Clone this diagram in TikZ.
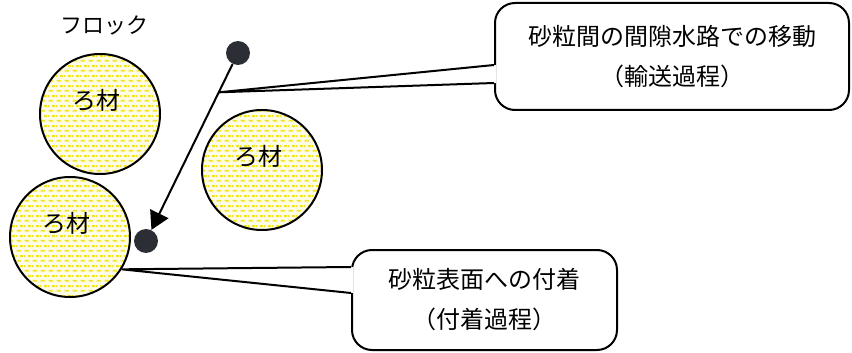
\documentclass[tikz,border=0pt]{standalone}
\usepackage{fontspec}
\newfontfamily\cjk{Noto Sans CJK JP}
\usepackage{tikz}
\usetikzlibrary{arrows.meta,patterns}
\definecolor{graindash}{RGB}{244,228,40}
\definecolor{grainbg}{RGB}{253,252,232}
\definecolor{floccolor}{RGB}{43,46,52}
\pgfdeclarepatternformonly{grainfill}{\pgfpointorigin}{\pgfpoint{4pt}{5pt}}{\pgfpoint{4pt}{5pt}}{%
	\pgfsetlinewidth{1pt}%
	\pgfpathmoveto{\pgfpoint{0.3pt}{1.25pt}}\pgfpathlineto{\pgfpoint{2.7pt}{1.25pt}}%
	\pgfpathmoveto{\pgfpoint{2.3pt}{3.75pt}}\pgfpathlineto{\pgfpoint{4pt}{3.75pt}}%
	\pgfpathmoveto{\pgfpoint{0pt}{3.75pt}}\pgfpathlineto{\pgfpoint{0.7pt}{3.75pt}}%
	\pgfusepath{stroke}}

\begin{document}
\begin{tikzpicture}[x=0.5pt,y=-0.5pt,
		grain/.style={circle,draw,line width=1pt,minimum size=60pt,inner sep=0pt,preaction={fill=grainbg},pattern=grainfill,pattern color=graindash},
		grainlabel/.style={font=\cjk\fontsize{12}{14}\selectfont,xshift=-2pt,yshift=7pt},
		floc/.style={circle,fill=floccolor,minimum size=12pt,inner sep=0pt},
		bubble/.style={draw,line width=1pt,rounded corners=10pt,fill=white,align=center,font=\cjk\fontsize{12}{20}\selectfont}]
		\useasboundingbox (0,0) rectangle (852,353);
		%Grains
		\node[grain,label={[grainlabel]center:ろ材}] (grainA) at (100,114) {};
		\node[grain,label={[grainlabel]center:ろ材}] (grainB) at (70,237) {};
		\node[grain,label={[grainlabel]center:ろ材}] (grainC) at (262,170) {};
		%Flocs
		\node[font=\cjk\fontsize{11}{13}\selectfont] (floclabel) at (105,25) {フロック};
		\node[floc] (flocA) at (238,53) {};
		\node[floc] (flocB) at (146,241) {};
		\draw[line width=1pt,-{Triangle[length=9pt,width=10pt]}] (flocA) -- coordinate[pos=0.17] (route) (flocB);
		%Callouts
		\node[bubble,minimum width=177pt,minimum height=53.5pt] (move) at (672,56.5) {砂粒間の間隙水路での移動\\（輸送過程）};
		\node[bubble,minimum width=132.5pt,minimum height=50pt] (attach) at (484.5,300) {砂粒表面への付着\\（付着過程）};
		\fill[white] ([shift={(2,8.5)}]move.west) -- (route) -- ([shift={(2,26.5)}]move.west) -- cycle;
		\draw[line width=1pt] ([shift={(0,8.5)}]move.west) -- (route) -- ([shift={(0,26.5)}]move.west);
		\fill[white] ([shift={(2,-33)}]attach.west) -- (grainB.-32) -- ([shift={(2,-7)}]attach.west) -- cycle;
		\draw[line width=1pt] ([shift={(0,-33)}]attach.west) -- (grainB.-32) -- ([shift={(0,-7)}]attach.west);
		\end{tikzpicture}
\end{document}
